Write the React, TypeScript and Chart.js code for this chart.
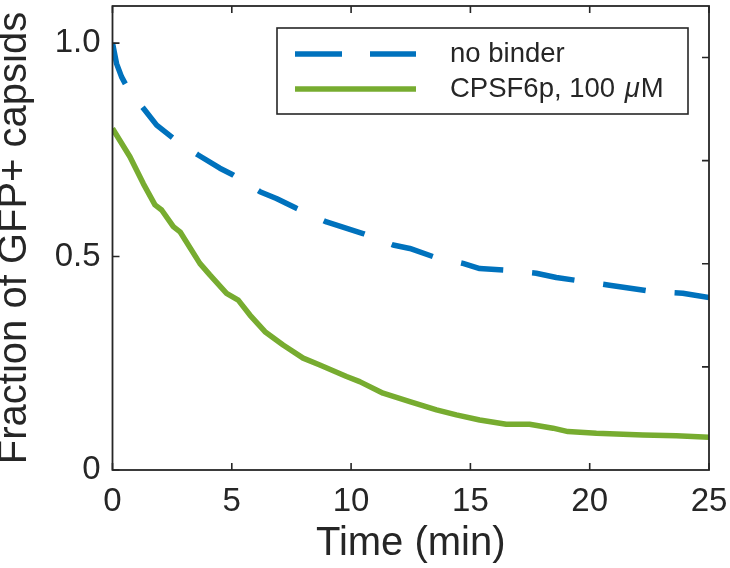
import { useEffect, useRef } from 'react';
import { Chart, registerables } from 'chart.js';

Chart.register(...registerables);

// ---- data ----
const timeNoBinder = [0, 0.17, 0.38, 0.6, 1.0, 1.36, 1.85, 2.55, 3.0, 3.59, 4.5, 5.06, 5.6, 6.18, 6.87, 7.71, 8.97, 10.5, 11.76, 12.46, 13.43, 14.69, 15.39, 16.5, 17.76, 18.6, 19.58, 20.83, 22.65, 23.9, 25];
const fracNoBinder = [1.0, 0.952, 0.921, 0.898, 0.868, 0.843, 0.808, 0.777, 0.76, 0.738, 0.707, 0.691, 0.672, 0.652, 0.636, 0.613, 0.581, 0.554, 0.527, 0.519, 0.5, 0.484, 0.472, 0.468, 0.461, 0.451, 0.443, 0.433, 0.418, 0.414, 0.404];

const timeCpsf = [0, 0.73, 1.29, 1.78, 2.06, 2.55, 2.83, 3.66, 4.08, 4.78, 5.27, 5.76, 6.39, 7.15, 7.99, 8.69, 9.81, 10.36, 11.34, 12.46, 13.58, 14.41, 15.39, 16.5, 17.48, 18.46, 19.09, 20.28, 22.23, 23.63, 25];
const fracCpsf = [0.8, 0.734, 0.671, 0.621, 0.609, 0.57, 0.558, 0.484, 0.457, 0.414, 0.398, 0.363, 0.324, 0.293, 0.262, 0.246, 0.219, 0.207, 0.18, 0.16, 0.141, 0.129, 0.117, 0.107, 0.107, 0.098, 0.09, 0.086, 0.082, 0.08, 0.077];

const seriesLabels = ['no binder', 'CPSF6p, 100 μM'];
const xTicks = [0, 5, 10, 15, 20, 25];
const yTicks = [0, 0.5, 1.0];
const rightTicks = [1, 2, 3, 4];
const xTitle = 'Time (min)';
const yTitle = 'Fraction of GFP+ capsids';

const FONT = '"Liberation Sans", Arial, Helvetica, sans-serif';
const INK = '#262626';
const BLUE = '#0072BD';
const GREEN = '#77AC30';

const framePlugin = {
  id: 'matlabFrame',
  afterDraw(chart: any) {
    const { ctx, chartArea: a, scales } = chart;
    const xs = scales.x;
    const ys = scales.y;
    const y2 = scales.y2;
    ctx.save();
    // axes box
    ctx.strokeStyle = INK;
    ctx.lineWidth = 1.8;
    ctx.setLineDash([]);
    ctx.strokeRect(a.left, a.top, a.right - a.left, a.bottom - a.top);
    // inward ticks
    const L = 7;
    ctx.lineWidth = 1.6;
    ctx.beginPath();
    xTicks.forEach((v) => {
      const px = xs.getPixelForValue(v);
      ctx.moveTo(px, a.bottom);
      ctx.lineTo(px, a.bottom - L);
      ctx.moveTo(px, a.top);
      ctx.lineTo(px, a.top + L);
    });
    yTicks.forEach((v) => {
      const py = ys.getPixelForValue(v);
      ctx.moveTo(a.left, py);
      ctx.lineTo(a.left + L, py);
    });
    rightTicks.forEach((v) => {
      const py = y2.getPixelForValue(v);
      ctx.moveTo(a.right, py);
      ctx.lineTo(a.right - L, py);
    });
    ctx.stroke();

    // legend box
    const bw = 411;
    const bh = 86;
    const bx = a.right - 21 - bw;
    const by = a.top + 22;
    ctx.fillStyle = '#ffffff';
    ctx.fillRect(bx, by, bw, bh);
    ctx.lineWidth = 1.6;
    ctx.strokeStyle = INK;
    ctx.strokeRect(bx, by, bw, bh);

    const ds = chart.data.datasets;
    const rows = [by + 26, by + 61];
    ds.forEach((d: any, i: number) => {
      const ry = rows[i];
      ctx.beginPath();
      ctx.strokeStyle = d.borderColor;
      ctx.lineWidth = 5.5;
      ctx.lineCap = 'butt';
      ctx.setLineDash(i === 0 ? [47, 28] : []);
      ctx.moveTo(bx + 18, ry);
      ctx.lineTo(bx + 139, ry);
      ctx.stroke();
      ctx.setLineDash([]);
      ctx.fillStyle = INK;
      ctx.textBaseline = 'middle';
      ctx.textAlign = 'left';
      const tx = bx + 173;
      const label: string = d.label;
      const mu = label.indexOf('μ');
      ctx.font = `27.5px ${FONT}`;
      if (mu < 0) {
        ctx.fillText(label, tx, ry);
      } else {
        const pre = label.slice(0, mu);
        const post = label.slice(mu + 1);
        ctx.fillText(pre, tx, ry);
        let cx = tx + ctx.measureText(pre).width + 2;
        ctx.font = `italic 27.5px ${FONT}`;
        ctx.fillText('μ', cx, ry);
        cx += ctx.measureText('μ').width + 1;
        ctx.font = `27.5px ${FONT}`;
        ctx.fillText(post, cx, ry);
      }
    });
    ctx.restore();
  },
};

export default function App() {
  const ref = useRef<HTMLCanvasElement | null>(null);
  useEffect(() => {
    const canvas = ref.current;
    if (!canvas) return;
    const chart = new Chart(canvas, {
      type: 'line',
      data: {
        datasets: [
          {
            label: seriesLabels[0],
            data: timeNoBinder.map((t, i) => ({ x: t, y: fracNoBinder[i] })),
            borderColor: BLUE,
            backgroundColor: BLUE,
            borderWidth: 5.5,
            borderDash: [43, 29],
            borderCapStyle: 'butt',
            borderJoinStyle: 'round',
            pointRadius: 0,
            tension: 0,
            fill: false,
          },
          {
            label: seriesLabels[1],
            data: timeCpsf.map((t, i) => ({ x: t, y: fracCpsf[i] })),
            borderColor: GREEN,
            backgroundColor: GREEN,
            borderWidth: 5.5,
            borderCapStyle: 'butt',
            borderJoinStyle: 'round',
            pointRadius: 0,
            tension: 0,
            fill: false,
          },
        ],
      } as any,
      options: {
        responsive: false,
        animation: false,
        devicePixelRatio: 1,
        layout: { padding: { top: 6, right: 21, left: 0, bottom: 0 } },
        plugins: { legend: { display: false }, tooltip: { enabled: false } },
        scales: {
          x: {
            type: 'linear',
            position: 'bottom',
            min: 0,
            max: 25,
            grid: { display: false, drawTicks: false },
            border: { display: false },
            ticks: {
              stepSize: 5,
              padding: 12,
              autoSkip: false,
              maxRotation: 0,
              color: INK,
              font: { family: FONT, size: 33 },
              callback: (v: any) => String(v),
            },
            title: {
              display: true,
              text: xTitle,
              color: INK,
              padding: 0,
              font: { family: FONT, size: 40, lineHeight: 1.2 },
            },
            afterFit: (s: any) => {
              s.height = 98;
              s.paddingLeft = 0;
              s.paddingRight = 0;
            },
          },
          y: {
            type: 'linear',
            position: 'left',
            min: 0,
            max: 1.087,
            grid: { display: false, drawTicks: false },
            border: { display: false },
            ticks: {
              stepSize: 0.5,
              includeBounds: false,
              padding: 12,
              color: INK,
              font: { family: FONT, size: 33 },
              callback: (v: any) => (Number(v) === 0 ? '0' : Number(v).toFixed(1)),
            },
            title: {
              display: true,
              text: yTitle,
              color: INK,
              padding: 0,
              font: { family: FONT, size: 40, lineHeight: 0.75 },
            },
            afterFit: (s: any) => {
              s.width = 112.5;
              s.paddingTop = 0;
              s.paddingBottom = 0;
            },
          },
          y2: {
            type: 'linear',
            position: 'right',
            display: false,
            min: 0,
            max: 4.5,
          },
        },
      } as any,
      plugins: [framePlugin],
    });
    return () => chart.destroy();
  }, []);

  return (
    <div style={{ position: 'fixed', left: 0, top: 0, width: 730, height: 568, background: '#ffffff' }}>
      <canvas ref={ref} width={730} height={568} style={{ display: 'block', width: 730, height: 568 }} />
    </div>
  );
}
